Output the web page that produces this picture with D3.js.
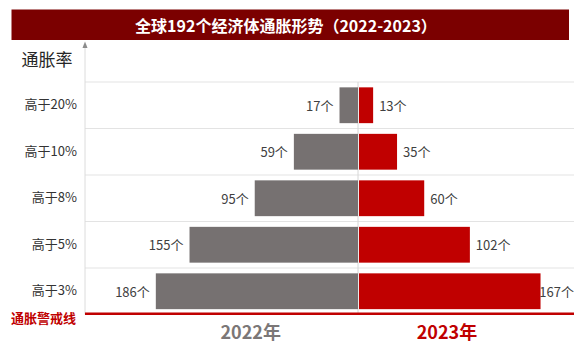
<!DOCTYPE html>
<html>
<head>
<meta charset="utf-8">
<script src="https://cdn.jsdelivr.net/npm/d3@7"></script>
<style>
  html, body { margin: 0; padding: 0; background: #fff; }
  svg { display: block; font-family: "Noto Sans CJK SC", "Noto Sans", sans-serif; }
</style>
</head>
<body>
<svg id="chart" width="574" height="343"></svg>
<script>
// Number of economies above each inflation threshold
const categories = ["高于20%", "高于10%", "高于8%", "高于5%", "高于3%"];
const values2022 = [17, 59, 95, 155, 186];
const values2023 = [13, 35, 60, 102, 167];
const years = ["2022年", "2023年"];
const title = "全球192个经济体通胀形势（2022-2023）";
const axisTitle = "通胀率";
const alertLabel = "通胀警戒线";
const unit = "个";

const W = 574, H = 343;
const axisX = 85, centerX = 358;
const plotTop = 82, plotBottom = 314.5;

const grayColor = "#767171";
const redColor = "#c00000";

const svg = d3.select("#chart");

// Title banner
svg.append("rect")
  .attr("x", 11.5).attr("y", 9.5).attr("width", 557.5).attr("height", 30.5)
  .attr("fill", "#7b0000");
svg.append("text")
  .attr("x", 286).attr("y", 25)
  .attr("text-anchor", "middle").attr("dominant-baseline", "central")
  .attr("fill", "#fff").attr("font-weight", "bold").attr("font-size", 16)
  .text(title);

// Scales
const y = d3.scaleBand()
  .domain(categories)
  .range([plotTop, plotBottom])
  .paddingInner(0.23)
  .paddingOuter(0.115);

const x = d3.scaleLinear().domain([0, 200]).range([0, 217.4]);

// Row separators
const step = y.step();
const gap = step * y.paddingInner() / 2;
svg.append("g").selectAll("line")
  .data(categories)
  .join("line")
  .attr("x1", axisX).attr("x2", W)
  .attr("y1", d => y(d) - gap).attr("y2", d => y(d) - gap)
  .attr("stroke", "#e3e3e3").attr("stroke-width", 1.2);

// Vertical axis with arrow
svg.append("line")
  .attr("x1", axisX).attr("x2", axisX)
  .attr("y1", 46).attr("y2", plotBottom)
  .attr("stroke", "#dcdcdc").attr("stroke-width", 1);
svg.append("path")
  .attr("d", `M${axisX - 2.5},48 L${axisX + 2.5},48 L${axisX},41.5 Z`)
  .attr("fill", "#8c8c8c");

// Center divider
svg.append("line")
  .attr("x1", centerX).attr("x2", centerX)
  .attr("y1", plotTop).attr("y2", plotBottom)
  .attr("stroke", "#d6d6d6").attr("stroke-width", 1);

// Axis title
svg.append("text")
  .attr("x", 47).attr("y", 58)
  .attr("text-anchor", "middle").attr("dominant-baseline", "central")
  .attr("font-size", 17).attr("fill", "#262626")
  .text(axisTitle);

// Category labels
const yAxis = svg.append("g")
  .attr("transform", `translate(${axisX},0)`)
  .call(d3.axisLeft(y).tickSize(0).tickPadding(8));
yAxis.select(".domain").remove();
yAxis.selectAll("text")
  .attr("font-size", 13).attr("fill", "#333")
  .style("font-family", '"Noto Sans CJK SC", sans-serif');

// 2022 bars (to the left)
svg.append("g").selectAll("rect")
  .data(categories)
  .join("rect")
  .attr("x", (d, i) => centerX - x(values2022[i]))
  .attr("y", d => y(d))
  .attr("width", (d, i) => x(values2022[i]))
  .attr("height", y.bandwidth())
  .attr("fill", grayColor);

// 2023 bars (to the right)
svg.append("g").selectAll("rect")
  .data(categories)
  .join("rect")
  .attr("x", centerX + 1)
  .attr("y", d => y(d))
  .attr("width", (d, i) => x(values2023[i]))
  .attr("height", y.bandwidth())
  .attr("fill", redColor);

// Value labels
svg.append("g").selectAll("text")
  .data(categories)
  .join("text")
  .attr("x", (d, i) => centerX - x(values2022[i]) - 6)
  .attr("y", d => y(d) + y.bandwidth() / 2)
  .attr("text-anchor", "end").attr("dominant-baseline", "central")
  .attr("font-size", 13).attr("fill", "#404040")
  .text((d, i) => values2022[i] + unit);

svg.append("g").selectAll("text")
  .data(categories)
  .join("text")
  .attr("y", d => y(d) + y.bandwidth() / 2)
  .attr("dominant-baseline", "central")
  .attr("font-size", 13).attr("fill", "#404040")
  .text((d, i) => values2023[i] + unit)
  .each(function (d, i) {
    const w = this.getComputedTextLength();
    const pos = Math.min(centerX + 1 + x(values2023[i]) + 6, W - w);
    d3.select(this).attr("x", pos);
  });

// Alert line
svg.append("line")
  .attr("x1", axisX).attr("x2", W)
  .attr("y1", 313.8).attr("y2", 313.8)
  .attr("stroke", redColor).attr("stroke-width", 2.6);
svg.append("text")
  .attr("x", 76).attr("y", 317.5)
  .attr("text-anchor", "end").attr("dominant-baseline", "central")
  .attr("font-size", 13).attr("font-weight", "bold").attr("fill", redColor)
  .text(alertLabel);

// Year labels
svg.append("text")
  .attr("x", 250.7).attr("y", 339)
  .attr("text-anchor", "middle")
  .attr("font-size", 18).attr("font-weight", "bold").attr("fill", "#7b7777")
  .text(years[0]);
svg.append("text")
  .attr("x", 447).attr("y", 339)
  .attr("text-anchor", "middle")
  .attr("font-size", 18).attr("font-weight", "bold").attr("fill", redColor)
  .text(years[1]);
</script>
</body>
</html>
